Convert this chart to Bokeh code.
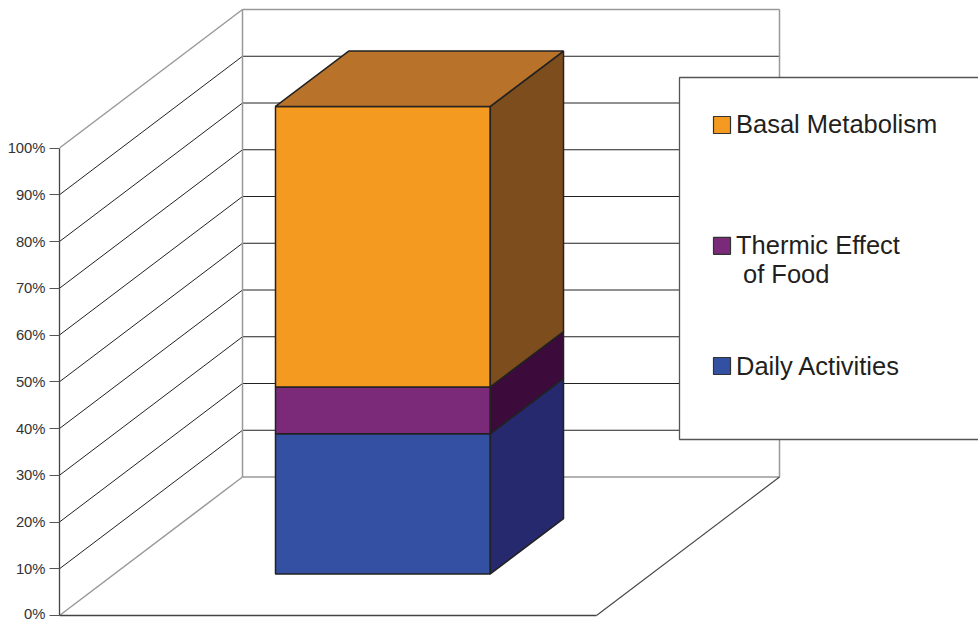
from bokeh.core.properties import value
from bokeh.embed import file_html
from bokeh.models import FixedTicker, LinearAxis, Range1d
from bokeh.plotting import figure
from bokeh.resources import INLINE

# Stacked shares, bottom to top
categories = ["Daily Activities", "Thermic Effect of Food", "Basal Metabolism"]
shares = [30, 10, 60]
tick_values = [0, 10, 20, 30, 40, 50, 60, 70, 80, 90, 100]
tick_labels = ["0%", "10%", "20%", "30%", "40%", "50%", "60%", "70%", "80%", "90%", "100%"]
legend_lines = [["Basal Metabolism"], ["Thermic Effect", "of Food"], ["Daily Activities"]]

front_colors = ["#3450A3", "#7A2A78", "#F59A21"]
side_colors = ["#26296E", "#3D0A3C", "#7E4D1E"]
top_color = "#B9722A"

WIDTH, HEIGHT = 978, 621
LEFT = 59            # screen x of the value axis
ZERO_Y = 615         # screen y of 0%
PX_PER_PCT = 4.675
FLOOR_W = 537        # width of the floor along the front edge
DEPTH_X, DEPTH_Y = 183, 138.5
BAR_U = (0.30, 0.70)
BAR_Z = (0.30, 0.70)

GRID_DARK = "#222222"
GRID_GREY = "#999999"
EDGE = "#222222"
TEXT = "#231F20"


def to_y(screen_y):
    return (ZERO_Y - screen_y) / PX_PER_PCT


def project(u, pct, z):
    """Oblique projection of floor position u, height pct and depth z."""
    return LEFT + u * FLOOR_W + z * DEPTH_X, pct + z * DEPTH_Y / PX_PER_PCT


p = figure(
    width=WIDTH, height=HEIGHT, output_backend="svg", toolbar_location=None,
    x_range=Range1d(LEFT, WIDTH), y_range=Range1d(to_y(HEIGHT), to_y(0)),
    x_axis_type=None, y_axis_type=None,
    min_border_left=LEFT, min_border_right=0, min_border_top=0, min_border_bottom=0,
)
p.grid.visible = False
p.outline_line_color = None
p.background_fill_color = "white"
p.border_fill_color = "white"

# Value axis along the front edge of the side wall
axis = LinearAxis(
    ticker=FixedTicker(ticks=tick_values),
    major_label_overrides={v: s for v, s in zip(tick_values, tick_labels)},
    bounds=(0, 100), major_tick_out=10, major_tick_in=0, minor_tick_out=0, minor_tick_in=0,
    major_label_standoff=4, major_label_text_font="Liberation Sans",
    major_label_text_font_size="14.8px", major_label_text_color="#333333",
    axis_line_color="#444444", axis_line_width=1.3,
    major_tick_line_color="#555555", major_tick_line_width=1.1,
)
p.add_layout(axis, "left")


def segment(a, b, color, width):
    p.line([a[0], b[0]], [a[1], b[1]], line_color=color, line_width=width)


# Side wall and back wall gridlines
for v in tick_values:
    edge_tick = v in (0, 100)
    color = GRID_GREY if edge_tick else GRID_DARK
    width = 1.5 if edge_tick else 1.0
    segment(project(0, v, 0), project(0, v, 1), color, width)
    segment(project(0, v, 1), project(1, v, 1), color, width)

# Wall verticals
segment(project(0, 0, 1), project(0, 100, 1), GRID_GREY, 1.5)
segment(project(1, 0, 1), project(1, 100, 1), GRID_GREY, 1.5)

# Floor front and right edges
segment(project(0, 0, 0), project(1, 0, 0), "#444444", 1.3)
segment(project(1, 0, 0), project(1, 0, 1), "#444444", 1.1)

# Stacked column: front and side faces of each segment, then the lid
base = 0
for share, front, side in zip(shares, front_colors, side_colors):
    top = base + share
    u0, u1 = BAR_U
    z0, z1 = BAR_Z
    corners_front = [project(u0, base, z0), project(u1, base, z0), project(u1, top, z0), project(u0, top, z0)]
    corners_side = [project(u1, base, z0), project(u1, base, z1), project(u1, top, z1), project(u1, top, z0)]
    for corners, fill in ((corners_front, front), (corners_side, side)):
        p.patch([c[0] for c in corners], [c[1] for c in corners],
                fill_color=fill, line_color=EDGE, line_width=1.5)
    base = top

lid = [project(BAR_U[0], base, BAR_Z[0]), project(BAR_U[1], base, BAR_Z[0]),
       project(BAR_U[1], base, BAR_Z[1]), project(BAR_U[0], base, BAR_Z[1])]
p.patch([c[0] for c in lid], [c[1] for c in lid], fill_color=top_color, line_color=EDGE, line_width=1.5)

# Legend panel, running off the right-hand side of the page
p.patch([679, 990, 990, 679], [to_y(77), to_y(77), to_y(439), to_y(439)],
        fill_color="white", line_color="#555555", line_width=1.3)

swatch_centers = [124.5, 245.3, 365.5]
line_centers = [[123.5], [244, 273], [365]]
line_lefts = [[735.5], [735.5, 742.5], [735.5]]
swatch_colors = [front_colors[2], front_colors[1], front_colors[0]]
for cy, lines, ys, xs, color in zip(swatch_centers, legend_lines, line_centers, line_lefts, swatch_colors):
    half = 8.5
    p.patch([713, 730, 730, 713], [to_y(cy - half), to_y(cy - half), to_y(cy + half), to_y(cy + half)],
            fill_color=color, line_color="#333333", line_width=1.2)
    for line, y, x in zip(lines, ys, xs):
        p.text([x], [to_y(y)], text=[line], text_font=value("Liberation Sans"),
               text_font_size="25.5px", text_color=TEXT, text_baseline="middle", text_align="left")

open("out.html", "w").write(file_html(p, INLINE))
